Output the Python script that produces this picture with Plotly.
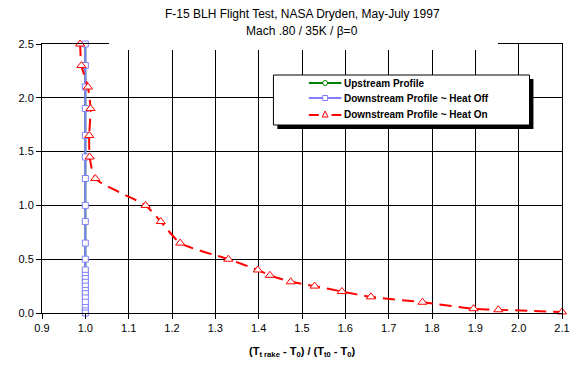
import plotly.graph_objects as go

# ---- data ----
up_y = [2.5, 2.3, 2.1, 1.9, 1.65, 1.45, 1.25, 1.0, 0.85, 0.65, 0.5, 0.4, 0.35, 0.32, 0.285, 0.25, 0.21, 0.18, 0.14, 0.1, 0.05, 0.02, 0.0]
up_x = [1.0] * len(up_y)

off_y = [2.5, 2.3, 2.1, 1.9, 1.65, 1.45, 1.25, 1.0, 0.85, 0.65, 0.5, 0.4, 0.35, 0.32, 0.285, 0.25, 0.21, 0.18, 0.14, 0.1, 0.05, 0.02, 0.0]
off_x = [1.0, 1.0, 1.0, 1.0, 1.0, 1.0, 1.0, 1.0, 1.0, 1.0, 1.0, 1.0, 1.0, 1.0, 1.0, 1.0, 1.0, 1.0, 1.0, 1.0, 1.0, 1.0, 1.0]

on_y = [2.5, 2.3, 2.1, 1.9, 1.65, 1.45, 1.25, 1.0, 0.85, 0.65, 0.5, 0.4, 0.35, 0.29, 0.25, 0.2, 0.15, 0.1, 0.04, 0.03, 0.01]
on_x = [0.988, 0.991, 1.006, 1.012, 1.009, 1.010, 1.023, 1.139, 1.174, 1.219, 1.33, 1.398, 1.426, 1.474, 1.529, 1.592, 1.659, 1.778, 1.896, 1.953, 2.1]

series_names = ["Upstream Profile", "Downstream Profile ~ Heat Off", "Downstream Profile ~ Heat On"]
series_colors = ["#008000", "#8080FF", "#FF0000"]

x_ticks = [0.9, 1.0, 1.1, 1.2, 1.3, 1.4, 1.5, 1.6, 1.7, 1.8, 1.9, 2.0, 2.1]
y_ticks = [0.0, 0.5, 1.0, 1.5, 2.0, 2.5]

W, H = 581, 369
L, R, T, B = 42, 11, 44, 56
PW, PH = W - L - R, H - T - B

def px(x):
    return (x - L) / PW

def py(y):
    return (H - B - y) / PH

FONT = "Liberation Sans, Arial, sans-serif"

fig = go.Figure()
fig.add_trace(go.Scatter(
    x=up_x, y=up_y, name=series_names[0], mode="lines+markers", cliponaxis=False,
    line=dict(color=series_colors[0], width=2),
    marker=dict(symbol="circle-open", size=5, color=series_colors[0], line=dict(width=1)),
))
fig.add_trace(go.Scatter(
    x=off_x, y=off_y, name=series_names[1], mode="lines+markers", cliponaxis=False,
    line=dict(color=series_colors[1], width=2),
    marker=dict(symbol="square", size=6, color="white", line=dict(width=1, color=series_colors[1])),
))
fig.add_trace(go.Scatter(
    x=on_x, y=on_y, name=series_names[2], mode="lines+markers", cliponaxis=False,
    line=dict(color=series_colors[2], width=2, dash="12px,7px", shape="spline", smoothing=0.6),
    marker=dict(symbol="triangle-up", size=8, color="white", line=dict(width=1, color=series_colors[2])),
))

shapes = [
    # cover for top border under title area
    dict(type="rect", xref="paper", yref="paper", x0=px(110), x1=px(505), y0=py(50), y1=py(0),
         fillcolor="white", line=dict(width=0), layer="above"),
    # legend shadow
    dict(type="rect", xref="paper", yref="paper", x0=px(281), x1=px(541), y0=py(129), y1=py(79),
         fillcolor="black", line=dict(width=0), layer="above"),
    # legend box
    dict(type="rect", xref="paper", yref="paper", x0=px(277), x1=px(537), y0=py(125), y1=py(75),
         fillcolor="white", line=dict(color="black", width=1), layer="above"),
]

annotations = [
    dict(text="F-15 BLH Flight Test, NASA Dryden, May-July 1997", xref="paper", yref="paper",
         x=0.5, y=py(14), xanchor="center", yanchor="middle", showarrow=False,
         font=dict(family=FONT, size=12, color="black")),
    dict(text="Mach .80 / 35K / β=0", xref="paper", yref="paper",
         x=0.5, y=py(31), xanchor="center", yanchor="middle", showarrow=False,
         font=dict(family=FONT, size=12, color="black")),
    dict(text="<b>(T<sub>t rake</sub> - T<sub>0</sub>) / (T<sub>t0</sub> - T<sub>0</sub>)</b>",
         xref="paper", yref="paper", x=0.5, y=py(352), xanchor="center", yanchor="middle",
         showarrow=False, font=dict(family=FONT, size=11, color="black")),
]

# ---- hand-built legend (to match compact Excel legend spacing) ----
rows = [83, 98, 115]
sx0, sx1, smid = 313, 346, 329.5
for i, (name, col, ry) in enumerate(zip(series_names, series_colors, rows)):
    if i < 2:
        shapes.append(dict(type="line", xref="paper", yref="paper", x0=px(sx0), x1=px(sx1),
                           y0=py(ry), y1=py(ry), line=dict(color=col, width=2), layer="above"))
    else:
        for a, b in [(sx0, 323), (336, sx1)]:
            shapes.append(dict(type="line", xref="paper", yref="paper", x0=px(a), x1=px(b),
                               y0=py(ry), y1=py(ry), line=dict(color=col, width=2), layer="above"))
    if i == 0:
        shapes.append(dict(type="circle", xref="paper", yref="paper",
                           x0=px(smid - 2.5), x1=px(smid + 2.5), y0=py(ry + 2.5), y1=py(ry - 2.5),
                           fillcolor="white", line=dict(color=col, width=1), layer="above"))
    elif i == 1:
        shapes.append(dict(type="rect", xref="paper", yref="paper",
                           x0=px(smid - 2.5), x1=px(smid + 2.5), y0=py(ry + 2.5), y1=py(ry - 2.5),
                           fillcolor="white", line=dict(color=col, width=1), layer="above"))
    else:
        path = (f"M {px(smid)},{py(ry - 4)} L {px(smid + 3)},{py(ry + 2)} "
                f"L {px(smid - 3)},{py(ry + 2)} Z")
        shapes.append(dict(type="path", xref="paper", yref="paper", path=path,
                           fillcolor="white", line=dict(color=col, width=1), layer="above"))
    annotations.append(dict(text=f"<b>{name}</b>", xref="paper", yref="paper",
                            x=px(348), y=py(ry), xanchor="left", yanchor="middle",
                            showarrow=False, xshift=-1,
                            font=dict(family=FONT, size=10, color="black")))

fig.update_layout(
    width=W, height=H,
    margin=dict(l=L, r=R, t=T, b=B),
    paper_bgcolor="white", plot_bgcolor="white",
    font=dict(family=FONT, size=11, color="black"),
    showlegend=False,
    shapes=shapes,
    annotations=annotations,
)

fig.update_xaxes(
    range=[0.9, 2.1], tickvals=x_ticks, ticktext=[f"{v:.1f}" for v in x_ticks],
    showgrid=True, gridcolor="black", gridwidth=1, zeroline=False,
    showline=True, linecolor="black", linewidth=1, mirror=True,
    ticks="outside", ticklen=5, tickcolor="black",
    tickfont=dict(family=FONT, size=11, color="black"),
)
fig.update_yaxes(
    range=[0, 2.5], tickvals=y_ticks, ticktext=[f"{v:.1f}" for v in y_ticks],
    showgrid=True, gridcolor="black", gridwidth=1, zeroline=False,
    showline=True, linecolor="black", linewidth=1, mirror=True,
    ticks="outside", ticklen=5, tickcolor="black",
    tickfont=dict(family=FONT, size=11, color="black"),
)

fig.write_html("out.html")
